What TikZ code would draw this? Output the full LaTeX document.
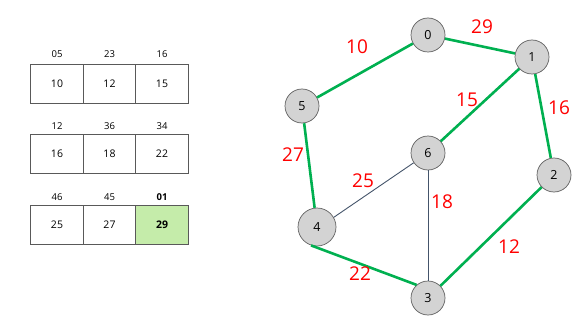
\documentclass[tikz,border=0pt]{standalone}
\usepackage{fontspec}
\setmainfont{Open Sans}
\usepackage{xcolor}
\usetikzlibrary{positioning}

\definecolor{treegreen}{RGB}{0, 176, 80}
\definecolor{cellgreen}{RGB}{197, 236, 170}
\definecolor{vfill}{RGB}{211, 211, 211}
\definecolor{edgegray}{RGB}{68, 84, 106}

\begin{document}
\begin{tikzpicture}[
    x=1pt, y=-1pt,
    cell/.style={
        draw=gray!70!black, line width=0.7pt, fill=white,
        minimum width=52.5pt, minimum height=39pt,
        inner sep=0pt, outer sep=0pt, font=\fontsize{10.5}{12}\selectfont
    },
    hdr/.style={font=\fontsize{9.5}{12}\selectfont, inner sep=0pt},
    vtx/.style={
        circle, draw=gray!75!black, fill=vfill, line width=0.7pt,
        minimum size=34pt, inner sep=0pt, font=\fontsize{12.5}{14}\selectfont
    },
    mst/.style={draw=treegreen, line width=2.6pt},
    plain/.style={draw=edgegray, line width=0.9pt},
    wlbl/.style={text=red, font=\fontsize{19}{22}\selectfont, inner sep=0pt}
]
\useasboundingbox (0,0) rectangle (580,326);

% edge list, sorted
\node[cell] (a1) at (57,84) {10};
\node[cell, right=0pt of a1] (a2) {12};
\node[cell, right=0pt of a2] (a3) {15};
\node[hdr] at (57,54) {05};
\node[hdr] at (109.5,54) {23};
\node[hdr] at (162,54) {16};

\node[cell] (b1) at (57,154) {16};
\node[cell, right=0pt of b1] (b2) {18};
\node[cell, right=0pt of b2] (b3) {22};
\node[hdr] at (57,126) {12};
\node[hdr] at (109.5,126) {36};
\node[hdr] at (162,126) {34};

\node[cell] (e1) at (57,225) {25};
\node[cell, right=0pt of e1] (e2) {27};
\node[cell, right=0pt of e2, fill=cellgreen] (e3) {\bfseries 29};
\node[hdr] at (57,197) {46};
\node[hdr] at (109.5,197) {45};
\node[hdr] at (162,197) {\bfseries 01};

% graph
\node[vtx] (v0) at (428,35) {0};
\node[vtx] (v1) at (532,57) {1};
\node[vtx] (v2) at (554,175) {2};
\node[vtx] (v3) at (428,298) {3};
\node[vtx, minimum size=38pt] (v4) at (317,227) {4};
\node[vtx] (v5) at (302,106) {5};
\node[vtx] (v6) at (428,153) {6};

\path[plain] (v4.30) -- (v6);
\path[plain] (v6) -- (v3);
\path[mst] (v5) -- (v0);
\path[mst] (v0) -- (v1);
\path[mst] (v1) -- (v6);
\path[mst] (v1) -- (v2);
\path[mst] (v2) -- (v3);
\path[mst] (v4.252) -- (v3.131);
\path[mst] (v4) -- (v5);

\node[wlbl] (w05) at (357,47) {10};
\node[wlbl] (w01) at (482,27) {29};
\node[wlbl] (w16) at (467,100) {15};
\node[wlbl] (w12) at (559,108) {16};
\node[wlbl] (w45) at (293,155) {27};
\node[wlbl] (w46) at (363,181) {25};
\node[wlbl] (w36) at (442,202) {18};
\node[wlbl] (w23) at (509,247) {12};
\node[wlbl] (w34) at (360,274) {22};

\end{tikzpicture}
\end{document}
